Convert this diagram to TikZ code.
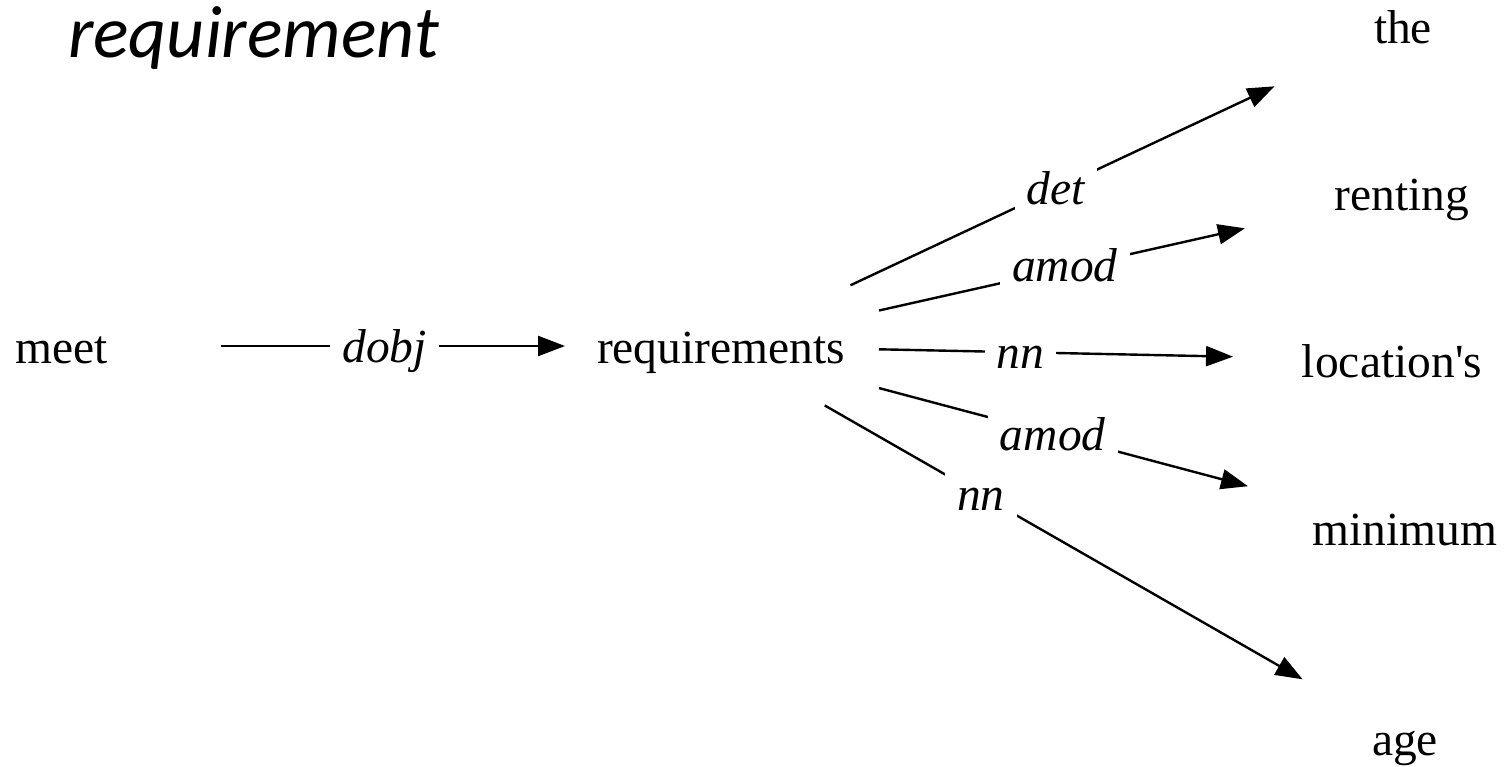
\documentclass[tikz,border=0pt]{standalone}
\usepackage{fontspec}
\setmainfont{Liberation Serif}
\newfontfamily\titlefont{Carlito}
\usetikzlibrary{arrows.meta}
\begin{document}
\begin{tikzpicture}[x=1pt,y=-1pt,
  word/.style={anchor=base, inner sep=0pt, text height=38pt, text depth=4pt,
    font=\fontsize{47.5}{57}\selectfont},
  deplabel/.style={fill=white, inner xsep=12pt, inner ysep=2pt,
    text height=36pt, text depth=4pt,
    font=\fontsize{47.5}{57}\selectfont\itshape},
  edge/.style={line width=2.4pt, -{Triangle[length=27pt,width=20pt]}}]
\useasboundingbox (0,0) rectangle (1507,766);

% heading
\node[anchor=base west, inner sep=0pt, font=\titlefont\fontsize{74}{88}\selectfont\itshape]
  (title) at (68,57) {requirement};

% words of the parse
\node[word] (meet) at (61.5,363) {meet};
\node[word] (req) at (721,363) {requirements};
\node[word] (the) at (1403,43) {the};
\node[word] (renting) at (1402,210) {renting};
\node[word] (location) at (1392,377) {location\textquotesingle s};
\node[word] (minimum) at (1405,545) {minimum};
\node[word] (age) at (1405,755) {age};

% dependency relations
\draw[edge, shorten <=159pt, shorten >=156pt] (meet.center) --
  node[deplabel, pos=0.49] (l-dobj) {dobj} (req.center);
\draw[edge, shorten <=143pt, shorten >=142pt] (req.center) --
  node[deplabel, pos=0.491] (l-det) {det} (the.center);
\draw[edge, shorten <=162pt, shorten >=161pt] (req.center) --
  node[deplabel, pos=0.505, yshift=3pt] (l-amod1) {amod} (renting.center);
\draw[edge, shorten <=158pt, shorten >=159pt] (req.center) --
  node[deplabel, pos=0.446] (l-nn1) {nn} (location.center);
\draw[edge, shorten <=163.5pt, shorten >=162.5pt] (req.center) --
  node[deplabel, pos=0.485] (l-amod2) {amod} (minimum.center);
\draw[edge, shorten <=119.6pt, shorten >=118pt] (req.center) --
  node[deplabel, pos=0.38] (l-nn2) {nn} (age.center);
\end{tikzpicture}
\end{document}
